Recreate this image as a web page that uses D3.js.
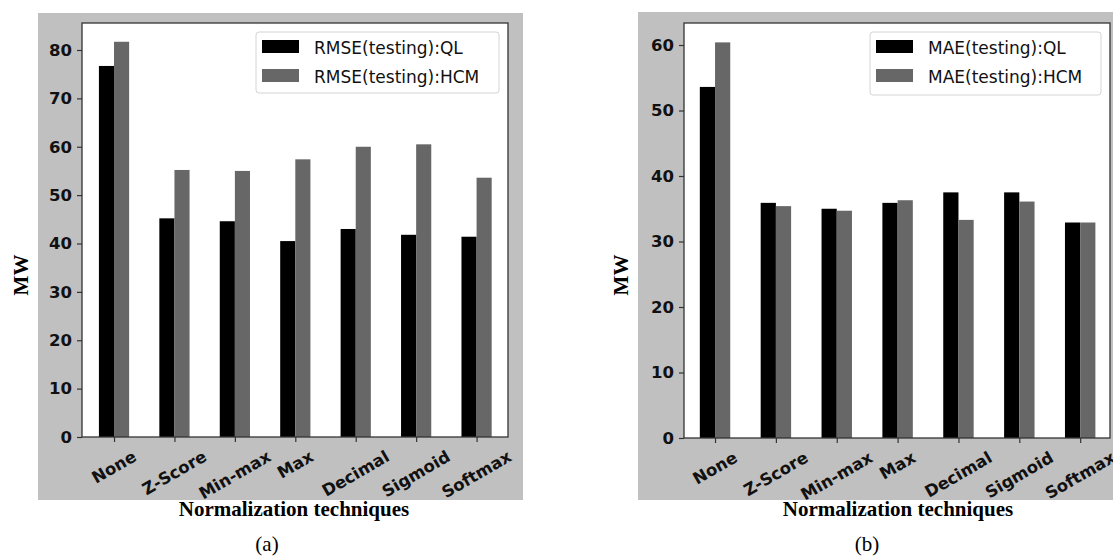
<!DOCTYPE html>
<html>
<head>
<meta charset="utf-8">
<script src="https://cdn.jsdelivr.net/npm/d3@7"></script>
<style>
    body { margin: 0; background: #fff; }
    svg { display: block; }
</style>
</head>
<body>
<div class="chart"></div>
<script>
const width = 1113
const height = 557

// data
const categories = ["None", "Z-Score", "Min-max", "Max", "Decimal", "Sigmoid", "Softmax"]
const rmseQL = [76.7, 45.2, 44.6, 40.5, 43.0, 41.8, 41.4]
const rmseHCM = [81.7, 55.2, 55.0, 57.4, 60.0, 60.5, 53.6]
const maeQL = [53.6, 35.9, 35.0, 35.9, 37.5, 37.5, 32.9]
const maeHCM = [60.4, 35.4, 34.7, 36.3, 33.3, 36.1, 32.9]
const rmseTicks = [0, 10, 20, 30, 40, 50, 60, 70, 80]
const maeTicks = [0, 10, 20, 30, 40, 50, 60]
const rmseLegend = ["RMSE(testing):QL", "RMSE(testing):HCM"]
const maeLegend = ["MAE(testing):QL", "MAE(testing):HCM"]

const colors = ["#000000", "#676767"]

const svg = d3.select(".chart")
    .append("svg")
    .attr("width", width)
    .attr("height", height)

const panels = [
    {
        bg: [38, 13, 523, 500], plot: [82, 23, 508, 437],
        xDomain: [-0.53, 6.52], yMax: 85.58,
        ql: rmseQL, hcm: rmseHCM, ticks: rmseTicks, legend: rmseLegend,
        legendBox: [256, 32, 499, 93], mwX: 21, xLabelX: 294, capX: 267, cap: "(a)"
    },
    {
        bg: [638, 12, 1116, 500], plot: [684, 23, 1110, 438],
        xDomain: [-0.51, 6.49], yMax: 63.36,
        ql: maeQL, hcm: maeHCM, ticks: maeTicks, legend: maeLegend,
        legendBox: [870, 32, 1101, 95], mwX: 621, xLabelX: 898, capX: 867, cap: "(b)"
    }
]

panels.forEach(drawPanel)

function drawPanel(p) {
    const [l, t, r, b] = p.plot

    const x = d3.scaleLinear().domain(p.xDomain).range([l, r])
    const y = d3.scaleLinear().domain([0, p.yMax]).range([b, t])

    // grey figure background
    svg.append("rect")
        .attr("x", p.bg[0]).attr("y", p.bg[1])
        .attr("width", p.bg[2] - p.bg[0]).attr("height", p.bg[3] - p.bg[1])
        .attr("fill", "#c0c0c0")

    svg.append("rect")
        .attr("x", l).attr("y", t)
        .attr("width", r - l).attr("height", b - t)
        .attr("fill", "#fff")

    const rows = categories.map((c, i) => ({ i, ql: p.ql[i], hcm: p.hcm[i] }))
    const barW = x(0.25) - x(0)

    const g = svg.append("g")
    g.selectAll("rect.ql")
        .data(rows)
        .join("rect")
        .attr("class", "ql")
        .attr("x", d => x(d.i - 0.25))
        .attr("y", d => y(d.ql))
        .attr("width", barW)
        .attr("height", d => y(0) - y(d.ql))
        .attr("fill", colors[0])
    g.selectAll("rect.hcm")
        .data(rows)
        .join("rect")
        .attr("class", "hcm")
        .attr("x", d => x(d.i))
        .attr("y", d => y(d.hcm))
        .attr("width", barW)
        .attr("height", d => y(0) - y(d.hcm))
        .attr("fill", colors[1])

    // y axis
    const yAxis = d3.axisLeft(y).tickValues(p.ticks).tickSize(5).tickPadding(5)
    svg.append("g")
        .attr("transform", `translate(${l},0)`)
        .call(yAxis)
        .call(g => g.select(".domain").remove())
        .call(g => g.selectAll(".tick line").attr("stroke", "#333").attr("stroke-width", 1.2))
        .selectAll(".tick text")
        .attr("fill", "#111")
        .attr("font-family", "DejaVu Sans")
        .attr("font-weight", "bold")
        .attr("font-size", 16.5)

    // x axis, labels rotated by hand below
    const xAxis = d3.axisBottom(x).tickValues(d3.range(categories.length)).tickSize(5).tickFormat("")
    svg.append("g")
        .attr("transform", `translate(0,${b})`)
        .call(xAxis)
        .call(g => g.select(".domain").remove())
        .call(g => g.selectAll(".tick line").attr("stroke", "#333").attr("stroke-width", 1.2))

    const labels = svg.append("g")
        .selectAll("text")
        .data(categories)
        .join("text")
        .text(d => d)
        .attr("text-anchor", "middle")
        .attr("dominant-baseline", "central")
        .attr("font-family", "DejaVu Sans")
        .attr("font-weight", "bold")
        .attr("font-size", 16.5)
        .attr("fill", "#111")
    labels.attr("transform", function (d, i) {
        const w = this.getComputedTextLength()
        const hBox = w * 0.5 + 12 * 0.866
        return `translate(${x(i)},${b + 13 + hBox / 2}) rotate(-30)`
    })

    // frame
    svg.append("rect")
        .attr("x", l).attr("y", t)
        .attr("width", r - l).attr("height", b - t)
        .attr("fill", "none")
        .attr("stroke", "#333")
        .attr("stroke-width", 1.3)

    // legend
    const lb = p.legendBox
    svg.append("rect")
        .attr("x", lb[0]).attr("y", lb[1])
        .attr("width", lb[2] - lb[0]).attr("height", lb[3] - lb[1])
        .attr("rx", 3)
        .attr("fill", "#fff")
        .attr("stroke", "#d4d4d4")
    const leg = svg.append("g")
        .selectAll("g")
        .data(p.legend)
        .join("g")
        .attr("transform", (d, i) => `translate(${lb[0] + 6},${lb[1] + 8 + i * 29})`)
    leg.append("rect")
        .attr("width", 37).attr("height", 13)
        .attr("fill", (d, i) => colors[i])
    leg.append("text")
        .attr("x", 52).attr("y", 14)
        .text(d => d)
        .attr("font-family", "DejaVu Sans")
        .attr("font-size", 17)
        .attr("fill", "#111")

    // titles in serif, as pasted in the paper
    svg.append("text")
        .text("MW")
        .attr("transform", `translate(${p.mwX},275) rotate(-90)`)
        .attr("text-anchor", "middle")
        .attr("dominant-baseline", "central")
        .attr("font-family", "Liberation Serif")
        .attr("font-weight", "bold")
        .attr("font-size", 21)
    svg.append("text")
        .text("Normalization techniques")
        .attr("x", p.xLabelX).attr("y", 516)
        .attr("text-anchor", "middle")
        .attr("font-family", "Liberation Serif")
        .attr("font-weight", "bold")
        .attr("font-size", 21)
    svg.append("text")
        .text(p.cap)
        .attr("x", p.capX).attr("y", 551)
        .attr("text-anchor", "middle")
        .attr("font-family", "Liberation Serif")
        .attr("font-size", 21)
}
</script>
</body>
</html>
